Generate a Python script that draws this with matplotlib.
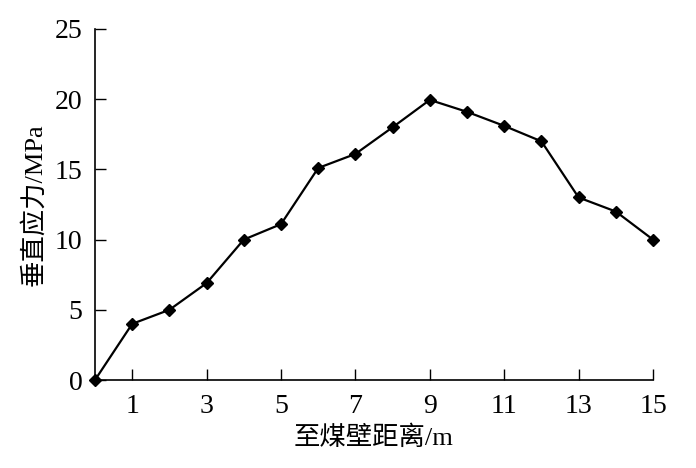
import matplotlib
matplotlib.use("Agg")
import matplotlib.pyplot as plt

distance = [0, 1, 2, 3, 4, 5, 6, 7, 8, 9, 10, 11, 12, 13, 14, 15]
stress = [0, 4.0, 5.0, 6.9, 10.0, 11.1, 15.1, 16.1, 18.0, 19.95, 19.1, 18.1, 17.0, 13.0, 12.0, 10.0]
xticks = [1, 3, 5, 7, 9, 11, 13, 15]
yticks = [0, 5, 10, 15, 20, 25]

fam = ['Liberation Serif', 'Noto Sans CJK SC']

fig = plt.figure(figsize=(6.96, 4.68), dpi=100)
ax = fig.add_axes([95/696, 1 - 380/468, (653-95)/696, (380-29)/468])
ax.plot(distance, stress, color='black', lw=1.6, marker='D', markersize=6.4,
        markerfacecolor='black', markeredgecolor='black', clip_on=False, zorder=3)
ax.set_xlim(0, 15)
ax.set_ylim(0, 25)
ax.set_xticks(xticks)
ax.set_yticks(yticks)
for s in ['top', 'right']:
    ax.spines[s].set_visible(False)
for s in ['left', 'bottom']:
    ax.spines[s].set_linewidth(1.2)
ax.tick_params(direction='in', length=8, width=1.0, labelsize=20)
ax.tick_params(axis='y', pad=9)
ax.tick_params(axis='x', pad=10)
for lab in ax.get_xticklabels() + ax.get_yticklabels():
    lab.set_family(fam)
ax.set_xlabel('至煤壁距离/m', fontsize=19, family=fam, labelpad=5)
ax.set_ylabel('垂直应力/MPa', fontsize=19, family=fam, labelpad=6)
fig.savefig('out.png', dpi=100)
